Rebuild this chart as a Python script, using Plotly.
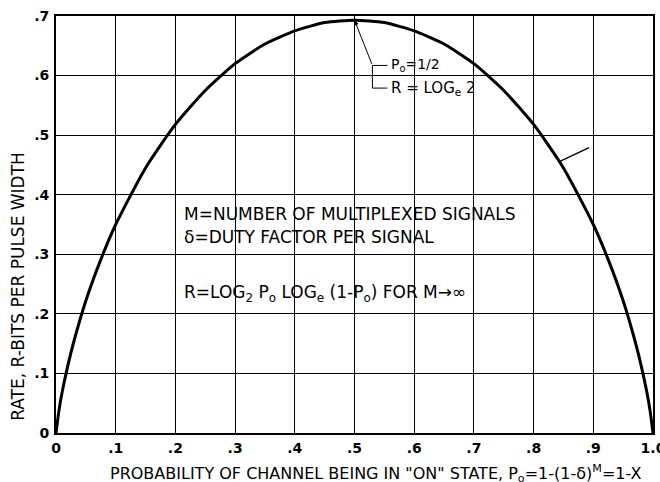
import plotly.graph_objects as go

# Probability P0 (x) and rate R (y)
p_vals = [0.0, 0.005, 0.01, 0.02, 0.03, 0.05, 0.075, 0.1, 0.15, 0.2, 0.25, 0.3, 0.35,
          0.4, 0.45, 0.5, 0.55, 0.6, 0.65, 0.7, 0.75, 0.8, 0.85, 0.9, 0.925, 0.95,
          0.97, 0.98, 0.99, 0.995, 1.0]
r_vals = [0.0, 0.038, 0.067, 0.114, 0.154, 0.222, 0.291, 0.350, 0.445, 0.518, 0.575,
          0.620, 0.653, 0.675, 0.689, 0.693, 0.689, 0.675, 0.653, 0.620, 0.575, 0.518,
          0.445, 0.350, 0.291, 0.222, 0.154, 0.114, 0.067, 0.038, 0.0]

x_ticks = [0.0, 0.1, 0.2, 0.3, 0.4, 0.5, 0.6, 0.7, 0.8, 0.9, 1.0]
x_ticktext = ["0", ".1", ".2", ".3", ".4", ".5", ".6", ".7", ".8", ".9", "1.0"]
y_ticks = [0.0, 0.1, 0.2, 0.3, 0.4, 0.5, 0.6, 0.7]
y_ticktext = ["0", ".1", ".2", ".3", ".4", ".5", ".6", ".7"]

FONT = "DejaVu Sans"
TXT = 17

fig = go.Figure()
fig.add_trace(go.Scatter(x=p_vals, y=r_vals, mode="lines",
                         line=dict(color="black", width=3, shape="spline", smoothing=0.6),
                         showlegend=False, hoverinfo="skip"))

fig.update_xaxes(range=[0, 1.0], tickvals=x_ticks, ticktext=x_ticktext, automargin=False,
                 showgrid=True, gridcolor="black", gridwidth=1.2,
                 showline=True, linecolor="black", linewidth=2, mirror=True,
                 zeroline=False, ticks="", ticklabelstandoff=1, ticklabeloverflow="allow",
                 tickfont=dict(family=FONT, size=14, color="black", weight="bold"))
fig.update_yaxes(range=[0, 0.7], tickvals=y_ticks, ticktext=y_ticktext, automargin=False,
                 showgrid=True, gridcolor="black", gridwidth=1.2,
                 showline=True, linecolor="black", linewidth=2, mirror=True,
                 zeroline=False, ticks="", ticklabelstandoff=2, ticklabeloverflow="allow",
                 tickfont=dict(family=FONT, size=14, color="black", weight="bold"))

annotations = [
    dict(x=0.5, y=0.693, ax=0.53, ay=0.617, axref="x", ayref="y", xref="x", yref="y",
         text="", showarrow=True, arrowhead=2, arrowsize=1, arrowwidth=1, arrowcolor="black"),
    dict(x=0.557, y=0.617, xref="x", yref="y", xanchor="left", yanchor="middle",
         text="P<sub>o</sub>=1/2", showarrow=False, font=dict(family=FONT, size=14, color="black")),
    dict(x=0.557, y=0.579, xref="x", yref="y", xanchor="left", yanchor="middle",
         text="R = LOG<sub>e</sub> 2", showarrow=False, font=dict(family=FONT, size=15, color="black")),
    dict(x=0.211, y=0.367, xref="x", yref="y", xanchor="left", yanchor="middle",
         text="M=NUMBER OF MULTIPLEXED SIGNALS", showarrow=False,
         font=dict(family=FONT, size=TXT, color="black")),
    dict(x=0.211, y=0.329, xref="x", yref="y", xanchor="left", yanchor="middle",
         text="δ=DUTY FACTOR PER SIGNAL", showarrow=False,
         font=dict(family=FONT, size=TXT, color="black")),
    dict(x=0.211, y=0.234, xref="x", yref="y", xanchor="left", yanchor="middle",
         text="R=LOG<sub>2</sub> P<sub>o</sub> LOG<sub>e</sub> (1-P<sub>o</sub>) FOR M→∞", showarrow=False,
         font=dict(family=FONT, size=TXT, color="black")),
    dict(x=0.536, y=-0.098, xref="paper", yref="paper", xanchor="center", yanchor="middle",
         text="PROBABILITY OF CHANNEL BEING IN \"ON\" STATE, P<sub>o</sub>=1-(1-δ)<sup>M</sup>=1-X",
         showarrow=False, font=dict(family=FONT, size=16, color="black")),
    dict(x=-0.064, y=0.3525, xref="paper", yref="paper", xanchor="center", yanchor="middle",
         text="RATE, R-BITS PER PULSE WIDTH", textangle=-90,
         showarrow=False, font=dict(family=FONT, size=TXT, color="black")),
]

shapes = [
    dict(type="line", xref="x", yref="y", x0=0.53, y0=0.617, x1=0.555, y1=0.617,
         line=dict(color="black", width=1)),
    dict(type="line", xref="x", yref="y", x0=0.53, y0=0.617, x1=0.53, y1=0.579,
         line=dict(color="black", width=1)),
    dict(type="line", xref="x", yref="y", x0=0.53, y0=0.579, x1=0.555, y1=0.579,
         line=dict(color="black", width=1)),
    dict(type="line", xref="x", yref="y", x0=0.844, y0=0.456, x1=0.893, y1=0.479,
         line=dict(color="black", width=1.3)),
]

fig.update_layout(width=660, height=482, margin=dict(l=56, r=7, t=16, b=49),
                  paper_bgcolor="white", plot_bgcolor="white",
                  annotations=annotations, shapes=shapes, showlegend=False)

fig.write_html("out.html", config={"displayModeBar": False},
               post_script="document.body.style.margin='0';")
